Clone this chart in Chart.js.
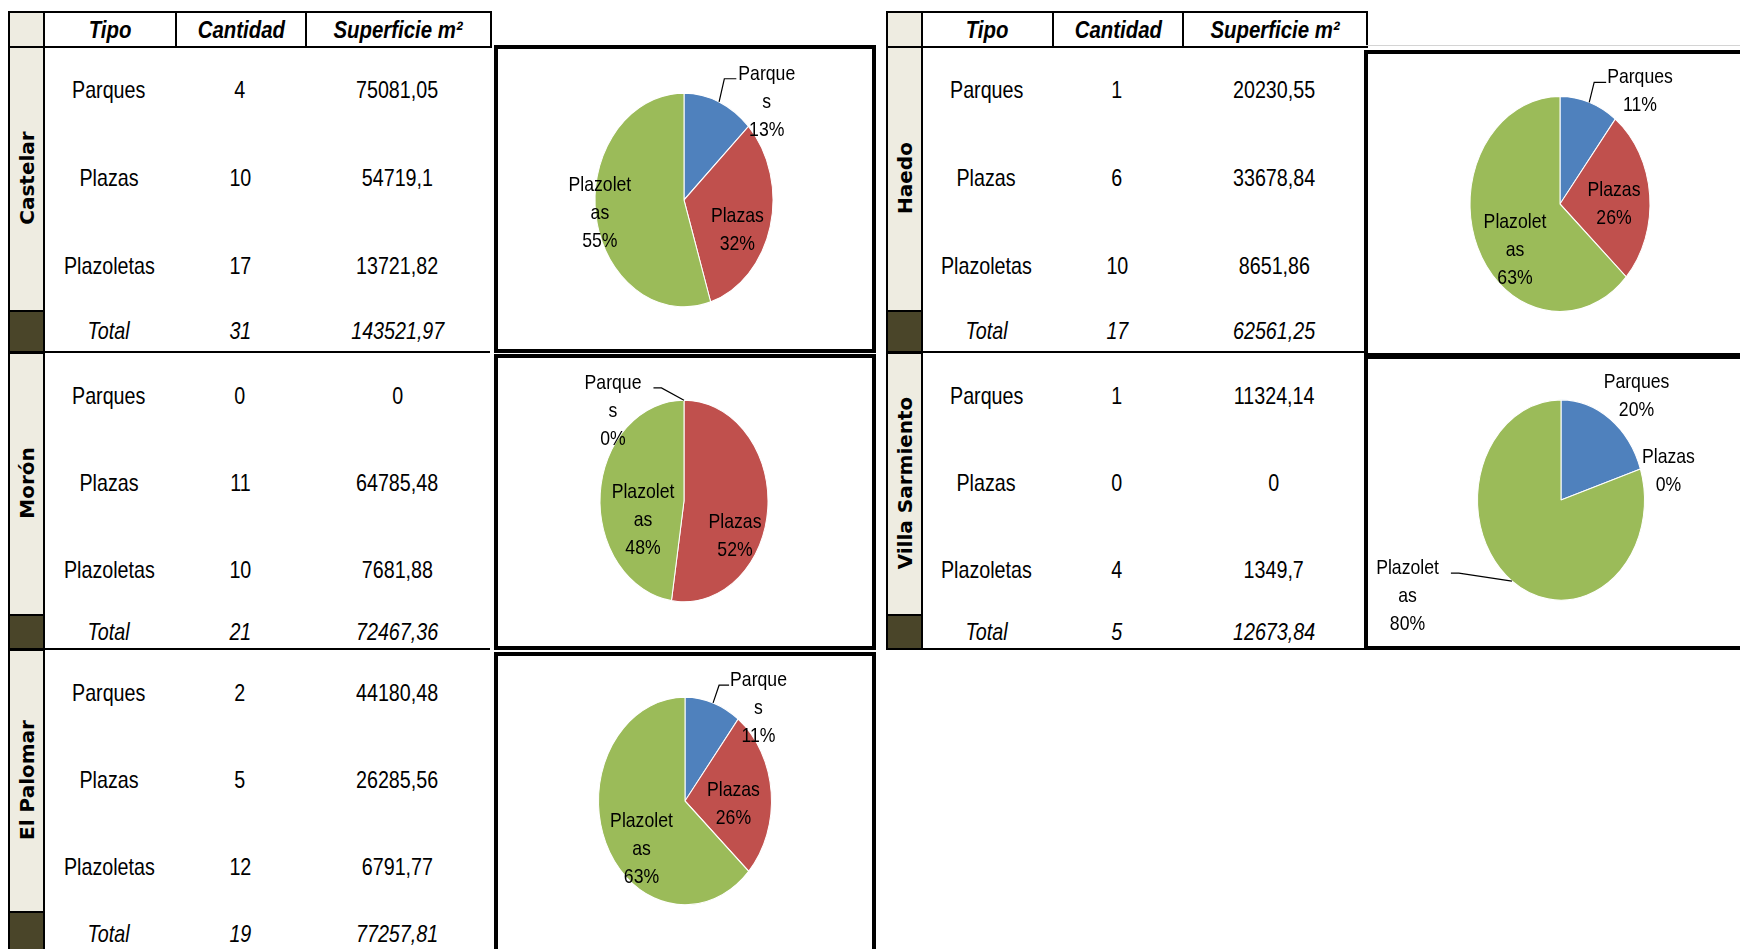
<!DOCTYPE html>
<html lang="es">
<head>
<meta charset="utf-8">
<title>Espacios verdes por localidad</title>
<script src="https://cdn.jsdelivr.net/npm/chart.js@4.4.1/dist/chart.umd.min.js"></script>
<style>
  html, body { margin: 0; padding: 0; background: #fff; }
  body {
    position: relative; width: 1740px; height: 949px; overflow: hidden;
    font-family: "Liberation Sans", Arial, sans-serif; color: #000;
  }
  .abs { position: absolute; box-sizing: border-box; }
  .cell { display: flex; align-items: center; justify-content: center; font-size: 24px; white-space: nowrap; }
  .cell span { display: inline-block; transform: scaleX(0.82); }
  .hdr { font-weight: bold; font-style: italic; border: 2px solid #000; background: #fff; }
  .hdr span { transform: scaleX(0.85); }
  .strip { background: #eeece1; border: 2px solid #000; }
  .dark { background: #4a4529; border: 2px solid #000; }
  .tot { font-style: italic; }
  .name {
    font-family: "DejaVu Sans", sans-serif; font-weight: bold; font-size: 20px;
    white-space: nowrap; transform: translate(-50%, -50%) rotate(-90deg);
  }
  .hline { background: #000; height: 2px; }
  .grid { background: #d4d4d4; height: 1px; }
  .box { border: 4px solid #000; background: #fff; }
</style>
</head>
<body>
<script>
const CATEGORIES = ['Parques', 'Plazas', 'Plazoletas'];
const HEADERS = ['Tipo', 'Cantidad', 'Superficie m²'];
const SLICE_COLORS = ['#4f81bd', '#c0504d', '#9bbb59'];

// cantidad / superficie (m²) / totales por localidad
const castelarCantidad = [4, 10, 17];
const castelarSuperficie = [75081.05, 54719.1, 13721.82];
const castelarTotal = [31, 143521.97];

const moronCantidad = [0, 11, 10];
const moronSuperficie = [0, 64785.48, 7681.88];
const moronTotal = [21, 72467.36];

const palomarCantidad = [2, 5, 12];
const palomarSuperficie = [44180.48, 26285.56, 6791.77];
const palomarTotal = [19, 77257.81];

const haedoCantidad = [1, 6, 10];
const haedoSuperficie = [20230.55, 33678.84, 8651.86];
const haedoTotal = [17, 62561.25];

const villaCantidad = [1, 0, 4];
const villaSuperficie = [11324.14, 0, 1349.7];
const villaTotal = [5, 12673.84];

// the Haedo pie carries the 11% / 26% / 63% split
const haedoPie = [2, 5, 12];

const fmt = v => String(v).replace('.', ',');

function addDiv(cls, x, y, w, h, text) {
  const d = document.createElement('div');
  d.className = 'abs ' + cls;
  Object.assign(d.style, { left: x + 'px', top: y + 'px', width: w + 'px', height: h + 'px' });
  if (text != null) {
    const s = document.createElement('span');
    s.textContent = text;
    d.appendChild(s);
  }
  document.body.appendChild(d);
  return d;
}

function drawHeader(cols) {
  addDiv('strip', cols[0], 11, cols[1] - cols[0] + 2, 37);
  for (let i = 1; i < 4; i++) {
    addDiv('cell hdr', cols[i], 11, cols[i + 1] - cols[i] + 2, 37, HEADERS[i - 1]);
  }
}

function drawSection(cols, s) {
  const [x0, x1] = cols;
  addDiv('strip', x0, s.top, x1 - x0 + 2, s.totalTop - s.top + 2);
  addDiv('dark', x0, s.totalTop, x1 - x0 + 2, s.bottom - s.totalTop + 1);
  addDiv('hline', x1, s.bottom - 1, cols[4] - x1, 2);

  const name = document.createElement('div');
  name.className = 'abs name';
  name.textContent = s.name;
  name.style.left = (x0 + x1 + 2) / 2 + 'px';
  name.style.top = (s.top + s.totalTop) / 2 + 'px';
  document.body.appendChild(name);

  const rowH = (s.totalTop - s.top) / 3;
  CATEGORIES.forEach((cat, i) => {
    const y = s.top + i * rowH;
    addDiv('cell', cols[1], y, cols[2] - cols[1], rowH, cat);
    addDiv('cell', cols[2], y, cols[3] - cols[2], rowH, s.cant[i]);
    addDiv('cell', cols[3], y, cols[4] - cols[3], rowH, fmt(s.sup[i]));
  });
  const th = s.bottom - s.totalTop;
  addDiv('cell tot', cols[1], s.totalTop, cols[2] - cols[1], th, 'Total');
  addDiv('cell tot', cols[2], s.totalTop, cols[3] - cols[2], th, s.total[0]);
  addDiv('cell tot', cols[3], s.totalTop, cols[4] - cols[3], th, fmt(s.total[1]));
}

const LEFT_COLS = [8, 43, 175, 305, 490];
const RIGHT_COLS = [886, 921, 1052, 1182, 1366];

drawHeader(LEFT_COLS);
drawHeader(RIGHT_COLS);
addDiv('grid', 1366, 45, 374, 1);

drawSection(LEFT_COLS, { name: 'Castelar', cant: castelarCantidad, sup: castelarSuperficie, total: castelarTotal, top: 46, totalTop: 310, bottom: 352 });
drawSection(LEFT_COLS, { name: 'Morón', cant: moronCantidad, sup: moronSuperficie, total: moronTotal, top: 352, totalTop: 614, bottom: 649 });
drawSection(LEFT_COLS, { name: 'El Palomar', cant: palomarCantidad, sup: palomarSuperficie, total: palomarTotal, top: 649, totalTop: 911, bottom: 956 });
drawSection(RIGHT_COLS, { name: 'Haedo', cant: haedoCantidad, sup: haedoSuperficie, total: haedoTotal, top: 46, totalTop: 310, bottom: 352 });
drawSection(RIGHT_COLS, { name: 'Villa Sarmiento', cant: villaCantidad, sup: villaSuperficie, total: villaTotal, top: 352, totalTop: 614, bottom: 649 });

// frames around each pie
addDiv('box', 494, 45, 382, 308);
addDiv('box', 494, 354, 382, 296);
addDiv('box', 494, 652, 382, 310);
addDiv('box', 1364, 50, 392, 307);
addDiv('box', 1364, 355, 392, 295);

// squash the arcs vertically into an ellipse around the pie centre
const ellipsePlugin = {
  id: 'ellipse',
  beforeDatasetsDraw(chart, args, opts) {
    const arc = chart.getDatasetMeta(0).data[0];
    const ctx = chart.ctx;
    ctx.save();
    ctx.translate(arc.x, arc.y);
    ctx.scale(1, opts.stretch);
    ctx.translate(-arc.x, -arc.y);
  },
  afterDatasetsDraw(chart) {
    chart.ctx.restore();
  },
};

// category + percent labels, with optional leader line to the slice edge
const sliceLabelsPlugin = {
  id: 'sliceLabels',
  afterDraw(chart, args, opts) {
    const ctx = chart.ctx;
    const meta = chart.getDatasetMeta(0);
    const values = chart.data.datasets[0].data;
    const total = values.reduce((a, b) => a + b, 0);
    const k = chart.options.plugins.ellipse.stretch;
    const sx = opts.squeeze;
    ctx.save();
    ctx.font = opts.font;
    ctx.fillStyle = '#000';
    ctx.strokeStyle = '#000';
    ctx.lineWidth = 1.2;
    ctx.textAlign = 'center';
    ctx.textBaseline = 'middle';
    meta.data.forEach((arc, i) => {
      const p = opts.placement[i];
      const R = arc.outerRadius;
      const lx = arc.x + p.at[0] * R;
      const ly = arc.y + p.at[1] * R * k;
      const name = chart.data.labels[i];
      const lines = p.wrap ? [name.slice(0, p.wrap), name.slice(p.wrap)] : [name];
      lines.push(Math.round(values[i] / total * 100) + '%');
      const y0 = ly - (lines.length - 1) * opts.lineHeight / 2;

      ctx.save();
      ctx.scale(sx, 1);
      lines.forEach((t, j) => ctx.fillText(t, lx / sx, y0 + j * opts.lineHeight));
      ctx.restore();

      if (p.leader) {
        const w = ctx.measureText(lines[0]).width * sx;
        const dir = p.leader.side === 'left' ? -1 : 1;
        const ax = lx + dir * (w / 2 + p.leader.gap);
        const bx = ax + dir * p.leader.run;
        const ay = y0 + 5;
        const mid = (arc.startAngle + arc.endAngle) / 2;
        const ex = arc.x + Math.cos(mid) * R;
        const ey = arc.y + Math.sin(mid) * R * k;
        ctx.beginPath();
        ctx.moveTo(ax, ay);
        ctx.lineTo(bx, ay);
        ctx.lineTo(ex, ey);
        ctx.stroke();
      }
    });
    ctx.restore();
  },
};

function makePie(cx, cy, radius, stretch, values, placement) {
  const W = 420, H = 300;
  const canvas = document.createElement('canvas');
  canvas.width = W;
  canvas.height = H;
  canvas.className = 'abs';
  Object.assign(canvas.style, { left: (cx - W / 2) + 'px', top: (cy - H / 2) + 'px', width: W + 'px', height: H + 'px' });
  document.body.appendChild(canvas);

  new Chart(canvas, {
    type: 'pie',
    data: {
      labels: CATEGORIES,
      datasets: [{
        data: values,
        backgroundColor: SLICE_COLORS,
        borderColor: '#fff',
        borderWidth: 1,
        radius,
      }],
    },
    options: {
      responsive: false,
      animation: false,
      events: [],
      layout: { padding: 0 },
      plugins: {
        legend: { display: false },
        tooltip: { enabled: false },
        ellipse: { stretch },
        sliceLabels: {
          font: '21px "Liberation Sans", Arial, sans-serif',
          squeeze: 0.84,
          lineHeight: 28,
          placement,
        },
      },
    },
    plugins: [ellipsePlugin, sliceLabelsPlugin],
  });
}

makePie(684, 199.5, 89, 1.2, castelarCantidad, [
  { at: [0.93, -0.92], wrap: 6, leader: { side: 'left', gap: 2, run: 12 } },
  { at: [0.60, 0.28] },
  { at: [-0.945, 0.12], wrap: 8 },
]);
makePie(684, 501, 84, 1.2, moronCantidad, [
  { at: [-0.845, -0.894], wrap: 6, leader: { side: 'right', gap: 12, run: 8 } },
  { at: [0.607, 0.351] },
  { at: [-0.488, 0.188], wrap: 8 },
]);
makePie(684.5, 801, 86.5, 1.2, palomarCantidad, [
  { at: [0.85, -0.894], wrap: 6, leader: { side: 'left', gap: 1, run: 10 } },
  { at: [0.56, 0.029] },
  { at: [-0.503, 0.468], wrap: 8 },
]);
makePie(1560, 203.5, 90, 1.195, haedoPie, [
  { at: [0.889, -1.047], leader: { side: 'left', gap: 1, run: 12 } },
  { at: [0.60, 0.005] },
  { at: [-0.50, 0.433], wrap: 8 },
]);
makePie(1560.5, 500, 83.5, 1.2, villaCantidad, [
  { at: [0.904, -1.04] },
  { at: [1.287, -0.29] },
  { at: [-1.838, 0.96], wrap: 8, leader: { side: 'right', gap: 12, run: 8 } },
]);
</script>
</body>
</html>
